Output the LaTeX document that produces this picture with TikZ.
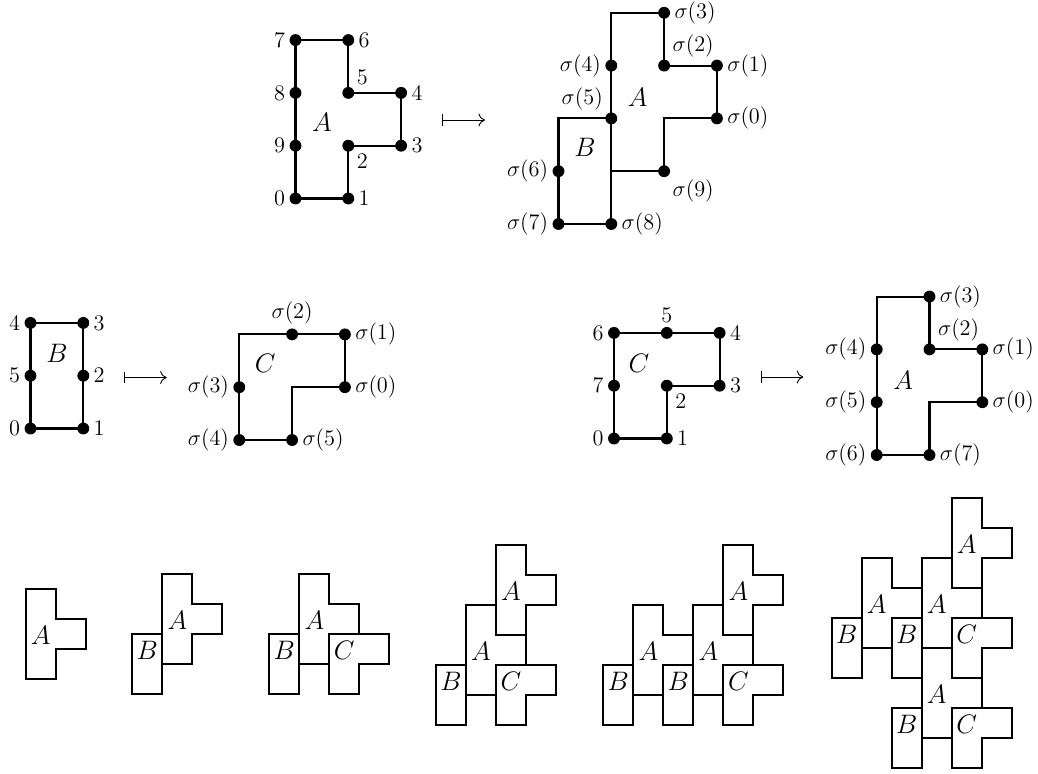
\documentclass[tikz,border=0pt]{standalone}
\usetikzlibrary{arrows.meta}
\tikzset{
  dot/.style={circle, fill=black, inner sep=0pt, minimum size=6.4pt},
  every label/.style={font=\large, inner sep=2pt},
  edge/.style={line width=1.1pt, line join=miter},
  tile/.style={line width=1.2pt, line join=miter},
  big/.style={font=\Large, inner sep=0pt},
  mapsto/.style={line width=0.5pt, {Bar[width=6pt]}-{To[length=3.5pt,width=7pt]}},
}
\newcommand{\TileA}[3]{%
  \draw[tile] (#1,#2) -- ++(1,0) -- ++(0,1) -- ++(1,0) -- ++(0,1) -- ++(-1,0) -- ++(0,1) -- ++(-1,0) -- cycle;
  \node[big] (#3) at (#1+0.5,#2+1.45) {$A$};}
\newcommand{\TileB}[3]{%
  \draw[tile] (#1,#2) -- ++(1,0) -- ++(0,2) -- ++(-1,0) -- cycle;
  \node[big] (#3) at (#1+0.5,#2+1.45) {$B$};}
\newcommand{\TileC}[3]{%
  \draw[tile] (#1,#2) -- ++(1,0) -- ++(0,1) -- ++(1,0) -- ++(0,1) -- ++(-2,0) -- cycle;
  \node[big] (#3) at (#1+0.5,#2+1.45) {$C$};}
\begin{document}
\begin{tikzpicture}[x=0.018939cm,y=-0.018939cm]
\useasboundingbox (0,0) rectangle (1038,773);

% ---------- top row: A -> composite ----------
\begin{scope}[shift={(295.5,198.5)},x=1cm,y=1cm]
  \node[dot,label=left:$0$] (a0) at (0,0) {};
  \node[dot,label=right:$1$] (a1) at (1,0) {};
  \node[dot,label=below right:$2$] (a2) at (1,1) {};
  \node[dot,label=right:$3$] (a3) at (2,1) {};
  \node[dot,label=right:$4$] (a4) at (2,2) {};
  \node[dot,label=above right:$5$] (a5) at (1,2) {};
  \node[dot,label=right:$6$] (a6) at (1,3) {};
  \node[dot,label=left:$7$] (a7) at (0,3) {};
  \node[dot,label=left:$8$] (a8) at (0,2) {};
  \node[dot,label=left:$9$] (a9) at (0,1) {};
  \draw[edge] (a0.center) -- (a1.center) -- (a2.center) -- (a3.center) -- (a4.center) -- (a5.center)
     -- (a6.center) -- (a7.center) -- (a8.center) -- (a9.center) -- cycle;
  \node[big] (la) at (0.5,1.45) {$A$};
\end{scope}

\coordinate (m1a) at (442.3,120);
\coordinate (m1b) at (485,120);
\draw[mapsto] (m1a) -- (m1b);

\begin{scope}[shift={(558.5,224)},x=1cm,y=1cm]
  \node[dot,label=right:$\sigma(0)$] (s0) at (3,2) {};
  \node[dot,label=right:$\sigma(1)$] (s1) at (3,3) {};
  \node[dot,label=above right:$\sigma(2)$] (s2) at (2,3) {};
  \node[dot,label=right:$\sigma(3)$] (s3) at (2,4) {};
  \node[dot,label=left:$\sigma(4)$] (s4) at (1,3) {};
  \node[dot,label=above left:$\sigma(5)$] (s5) at (1,2) {};
  \node[dot,label=left:$\sigma(6)$] (s6) at (0,1) {};
  \node[dot,label=left:$\sigma(7)$] (s7) at (0,0) {};
  \node[dot,label=right:$\sigma(8)$] (s8) at (1,0) {};
  \node[dot,label=below right:$\sigma(9)$] (s9) at (2,1) {};
  \coordinate (sc1) at (1,4);
  \coordinate (sc2) at (0,2);
  \coordinate (sc3) at (2,2);
  \coordinate (sc4) at (1,1);
  \draw[edge] (s0.center) -- (s1.center) -- (s2.center) -- (s3.center) -- (sc1) -- (s4.center)
     -- (s5.center) -- (sc4) -- (s8.center);
  \draw[edge] (s5.center) -- (sc2) -- (s6.center) -- (s7.center) -- (s8.center);
  \draw[edge] (s0.center) -- (sc3) -- (s9.center) -- (sc4);
  \node[big] (lsa) at (1.5,2.4) {$A$};
  \node[big] (lsb) at (0.5,1.45) {$B$};
\end{scope}

% ---------- middle row left: B -> C ----------
\begin{scope}[shift={(30.5,428.5)},x=1cm,y=1cm]
  \node[dot,label=left:$0$] (b0) at (0,0) {};
  \node[dot,label=right:$1$] (b1) at (1,0) {};
  \node[dot,label=right:$2$] (b2) at (1,1) {};
  \node[dot,label=right:$3$] (b3) at (1,2) {};
  \node[dot,label=left:$4$] (b4) at (0,2) {};
  \node[dot,label=left:$5$] (b5) at (0,1) {};
  \draw[edge] (b0.center) -- (b1.center) -- (b2.center) -- (b3.center) -- (b4.center) -- (b5.center) -- cycle;
  \node[big] (lb) at (0.5,1.42) {$B$};
\end{scope}

\coordinate (m2a) at (123.5,377.5);
\coordinate (m2b) at (166.7,377.5);
\draw[mapsto] (m2a) -- (m2b);

\begin{scope}[shift={(239.3,440)},x=1cm,y=1cm]
  \node[dot,label=right:$\sigma(0)$] (t0) at (2,1) {};
  \node[dot,label=right:$\sigma(1)$] (t1) at (2,2) {};
  \node[dot,label=above:$\sigma(2)$] (t2) at (1,2) {};
  \node[dot,label=left:$\sigma(3)$] (t3) at (0,1) {};
  \node[dot,label=left:$\sigma(4)$] (t4) at (0,0) {};
  \node[dot,label=right:$\sigma(5)$] (t5) at (1,0) {};
  \coordinate (tc1) at (0,2);
  \coordinate (tc2) at (1,1);
  \draw[edge] (t0.center) -- (t1.center) -- (t2.center) -- (tc1) -- (t3.center) -- (t4.center)
     -- (t5.center) -- (tc2) -- cycle;
  \node[big] (ltc) at (0.49,1.45) {$C$};
\end{scope}

% ---------- middle row right: C -> A ----------
\begin{scope}[shift={(614,438.5)},x=1cm,y=1cm]
  \node[dot,label=left:$0$] (c0) at (0,0) {};
  \node[dot,label=right:$1$] (c1) at (1,0) {};
  \node[dot,label=below right:$2$] (c2) at (1,1) {};
  \node[dot,label=right:$3$] (c3) at (2,1) {};
  \node[dot,label=right:$4$] (c4) at (2,2) {};
  \node[dot,label=above:$5$] (c5) at (1,2) {};
  \node[dot,label=left:$6$] (c6) at (0,2) {};
  \node[dot,label=left:$7$] (c7) at (0,1) {};
  \draw[edge] (c0.center) -- (c1.center) -- (c2.center) -- (c3.center) -- (c4.center) -- (c5.center)
     -- (c6.center) -- (c7.center) -- cycle;
  \node[big] (lc) at (0.47,1.42) {$C$};
\end{scope}

\coordinate (m3a) at (760.6,377);
\coordinate (m3b) at (803.3,377);
\draw[mapsto] (m3a) -- (m3b);

\begin{scope}[shift={(876.7,455)},x=1cm,y=1cm]
  \node[dot,label=right:$\sigma(0)$] (u0) at (2,1) {};
  \node[dot,label=right:$\sigma(1)$] (u1) at (2,2) {};
  \node[dot,label=above right:$\sigma(2)$] (u2) at (1,2) {};
  \node[dot,label=right:$\sigma(3)$] (u3) at (1,3) {};
  \node[dot,label=left:$\sigma(4)$] (u4) at (0,2) {};
  \node[dot,label=left:$\sigma(5)$] (u5) at (0,1) {};
  \node[dot,label=left:$\sigma(6)$] (u6) at (0,0) {};
  \node[dot,label=right:$\sigma(7)$] (u7) at (1,0) {};
  \coordinate (uc1) at (0,3);
  \coordinate (uc2) at (1,1);
  \draw[edge] (u0.center) -- (u1.center) -- (u2.center) -- (u3.center) -- (uc1) -- (u4.center)
     -- (u5.center) -- (u6.center) -- (u7.center) -- (uc2) -- cycle;
  \node[big] (lu) at (0.5,1.42) {$A$};
\end{scope}

% ---------- bottom row: tilings ----------
\begin{scope}[shift={(25.7,679)},x=0.5682cm,y=0.5682cm]
  \TileA{0}{0}{p1a}
\end{scope}
\begin{scope}[shift={(132.3,694)},x=0.5682cm,y=0.5682cm]
  \TileB{0}{0}{p2b}
  \TileA{1}{1}{p2a}
\end{scope}
\begin{scope}[shift={(269.3,694)},x=0.5682cm,y=0.5682cm]
  \TileB{0}{0}{p3b}
  \TileA{1}{1}{p3a}
  \TileC{2}{0}{p3c}
\end{scope}
\begin{scope}[shift={(436,725)},x=0.5682cm,y=0.5682cm]
  \TileB{0}{0}{p4b}
  \TileA{1}{1}{p4a}
  \TileA{2}{3}{p4a2}
  \TileC{2}{0}{p4c}
\end{scope}
\begin{scope}[shift={(603.3,725)},x=0.5682cm,y=0.5682cm]
  \TileB{0}{0}{p5b}
  \TileA{1}{1}{p5a}
  \TileB{2}{0}{p5b2}
  \TileA{3}{1}{p5a2}
  \TileA{4}{3}{p5a3}
  \TileC{4}{0}{p5c}
\end{scope}
\begin{scope}[shift={(831.7,768.3)},x=0.5682cm,y=0.5682cm]
  \TileB{0}{3}{p6b}
  \TileA{1}{4}{p6a}
  \TileB{2}{3}{p6b2}
  \TileA{3}{4}{p6a2}
  \TileA{4}{6}{p6a3}
  \TileC{4}{3}{p6c}
  \TileA{3}{1}{p6a4}
  \TileC{4}{0}{p6c2}
  \TileB{2}{0}{p6b3}
\end{scope}
\end{tikzpicture}
\end{document}
